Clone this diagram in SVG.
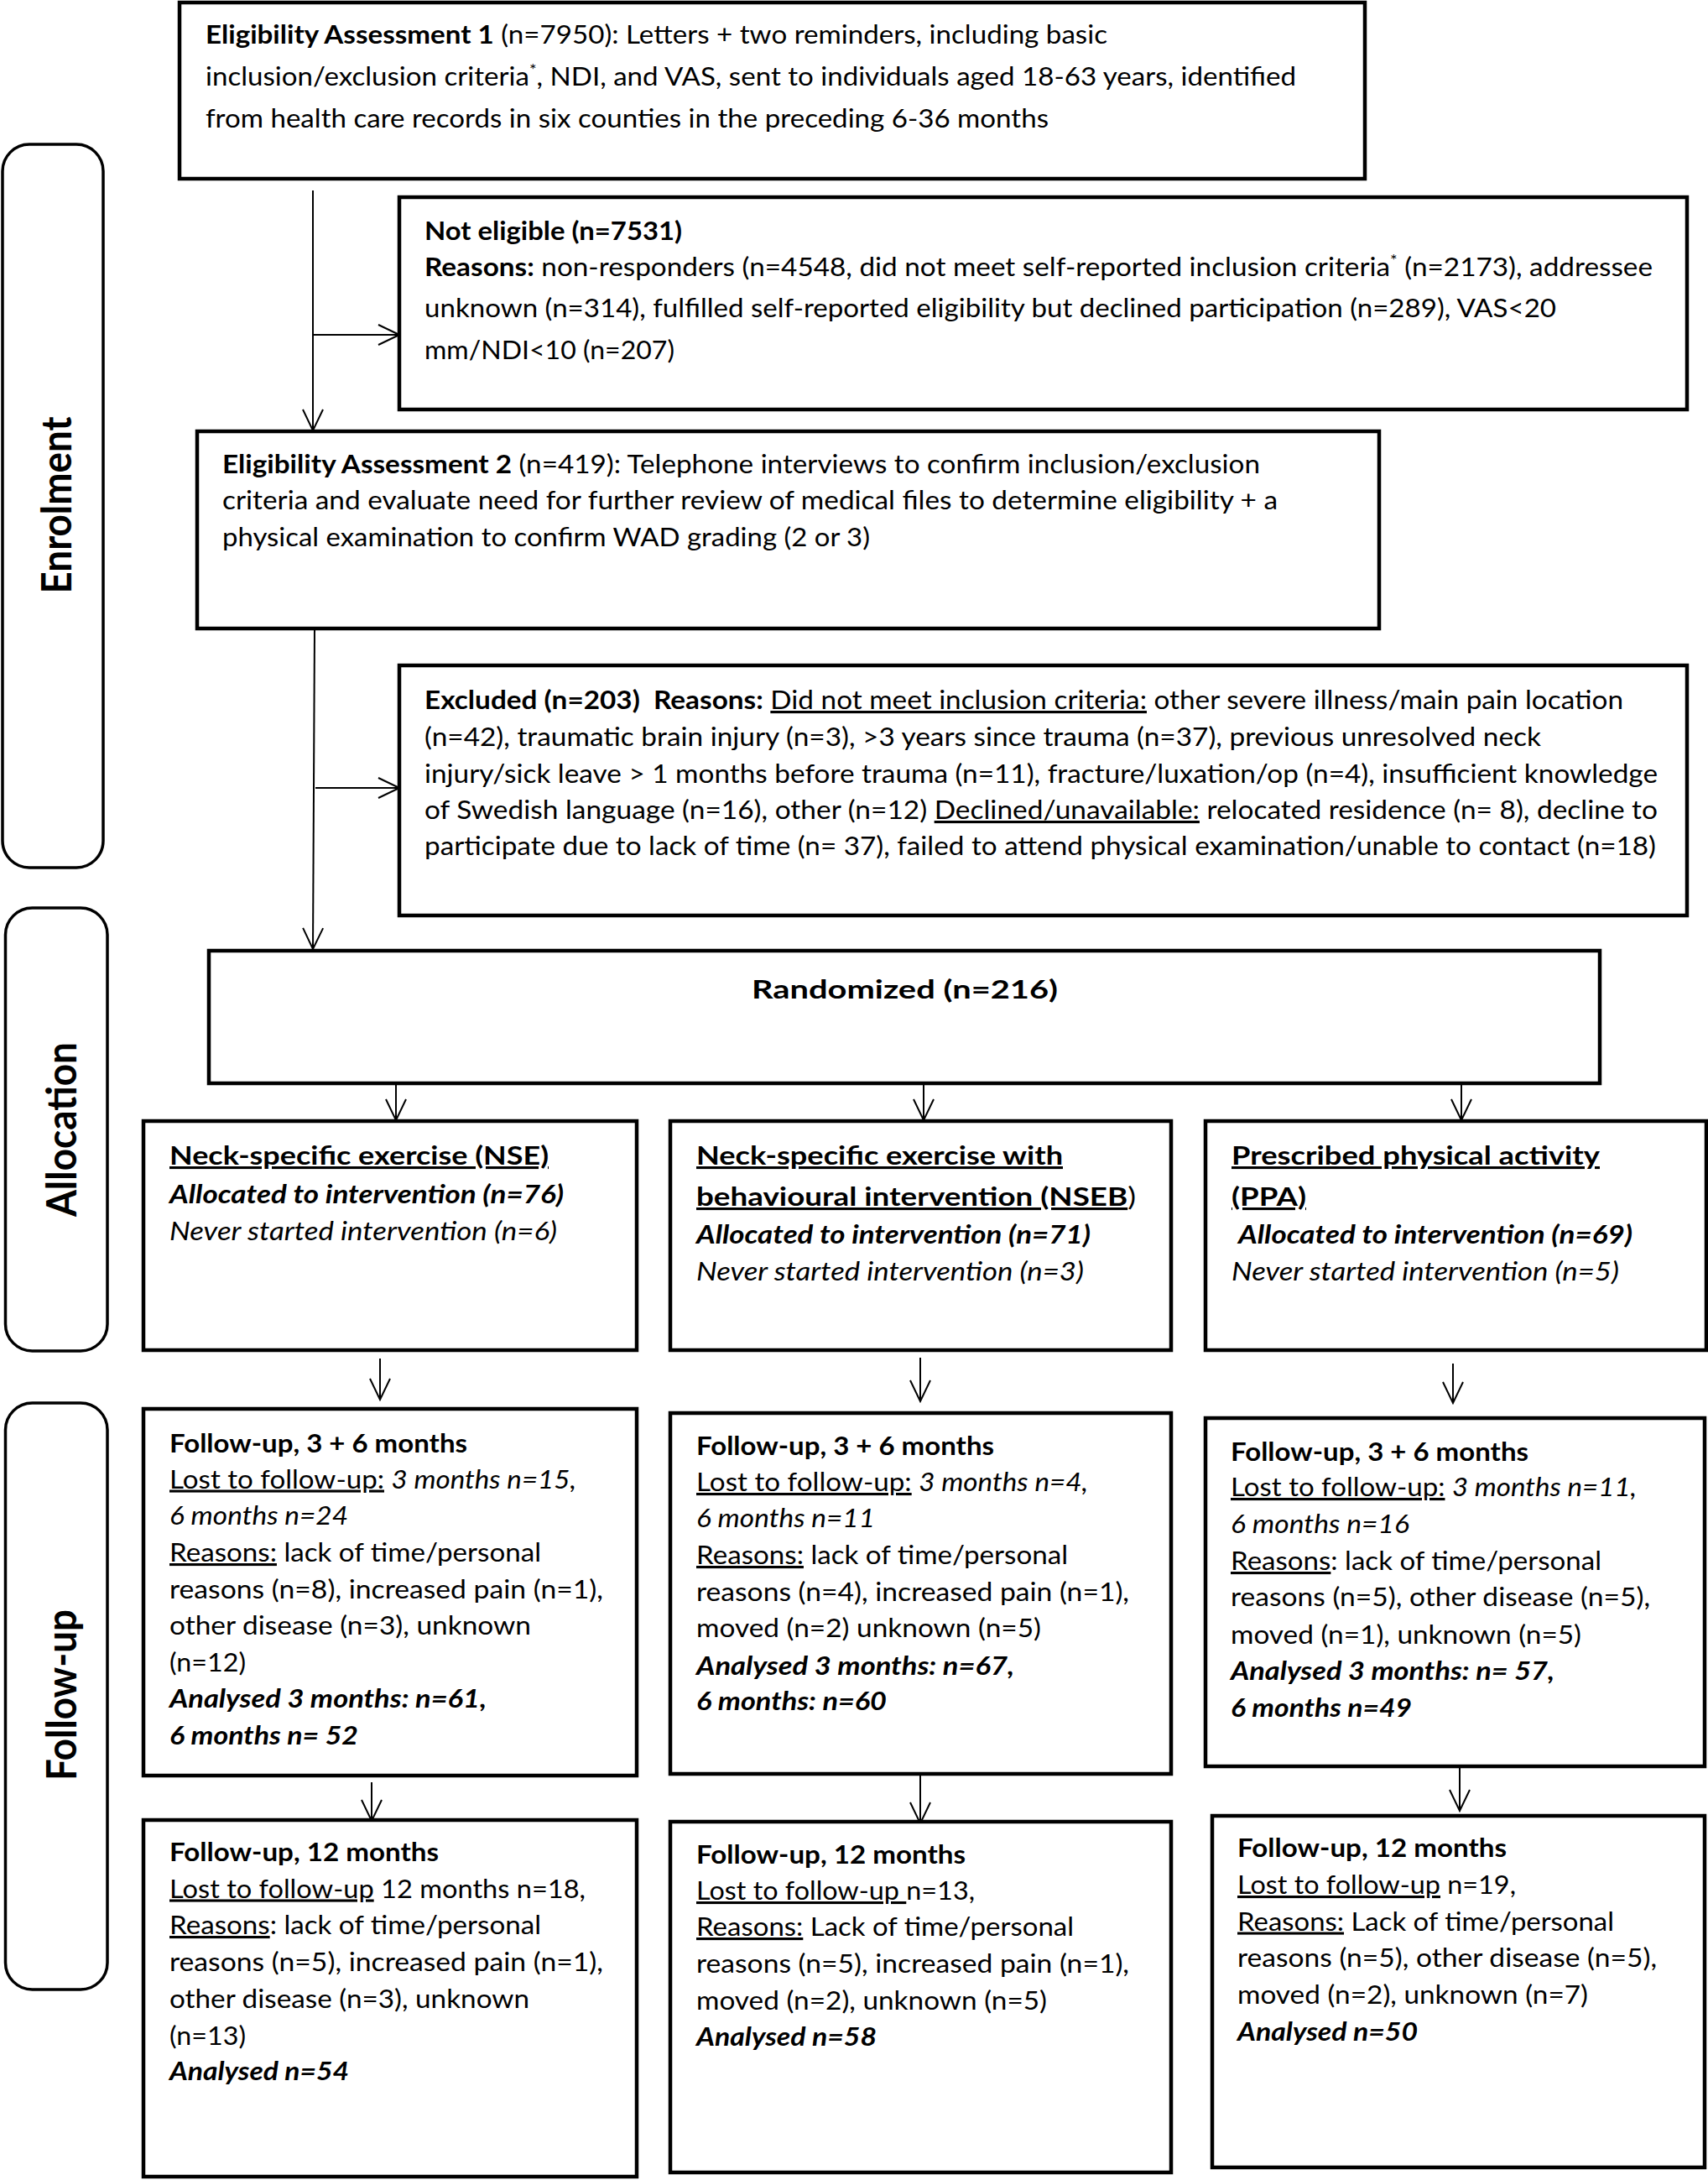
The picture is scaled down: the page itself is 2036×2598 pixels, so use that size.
<svg xmlns="http://www.w3.org/2000/svg" width="2036" height="2598" viewBox="0 0 2036 2598">
<style>
.bg{fill:#fff}
.box{fill:#fff;stroke:#000;stroke-width:4.5}
.lane{fill:#fff;stroke:#000;stroke-width:3.5}
.t{font-family:Lato,"Liberation Sans",sans-serif;font-size:31px;fill:#000}
.b{font-weight:bold}
.i{font-style:italic}
.u{text-decoration:underline}
.sup{font-size:19px}
.lbl{font-family:Lato,"Liberation Sans",sans-serif;font-size:50px;font-weight:bold;text-anchor:middle;fill:#000}
.conn{stroke:#000;stroke-width:2;fill:none;marker-end:url(#ah)}
</style>
<defs>
<marker id="ah" viewBox="0 0 28 26" refX="26" refY="13" markerWidth="28" markerHeight="26" markerUnits="userSpaceOnUse" orient="auto">
<path d="M1,1 L26,13 L1,25" fill="none" stroke="#000" stroke-width="2"/>
</marker>
</defs>
<rect class="bg" x="0" y="0" width="2036" height="2598"/>

<g id="lane-enrolment">
<rect class="lane" x="3" y="172" width="120" height="862" rx="32"/>
<text class="lbl" transform="translate(85,602) rotate(-90)" textLength="211" lengthAdjust="spacingAndGlyphs">Enrolment</text>
</g>
<g id="lane-allocation">
<rect class="lane" x="6.5" y="1082" width="121.5" height="528" rx="32"/>
<text class="lbl" transform="translate(91,1346) rotate(-90)" textLength="208" lengthAdjust="spacingAndGlyphs">Allocation</text>
</g>
<g id="lane-followup">
<rect class="lane" x="6.5" y="1672" width="121.5" height="699" rx="32"/>
<text class="lbl" transform="translate(91,2020) rotate(-90)" textLength="204" lengthAdjust="spacingAndGlyphs">Follow-up</text>
</g>

<g id="connectors">
<line class="conn" x1="373" y1="227" x2="373" y2="513"/>
<line class="conn" x1="374" y1="399" x2="476" y2="399"/>
<line class="conn" x1="375" y1="749" x2="373" y2="1131"/>
<line class="conn" x1="376" y1="939" x2="476" y2="939"/>
<line class="conn" x1="472" y1="1291" x2="472" y2="1335"/>
<line class="conn" x1="1101" y1="1291" x2="1101" y2="1335"/>
<line class="conn" x1="1742" y1="1291" x2="1742" y2="1335"/>
<line class="conn" x1="453" y1="1619" x2="453" y2="1668"/>
<line class="conn" x1="1097" y1="1618" x2="1097" y2="1670"/>
<line class="conn" x1="1732" y1="1625" x2="1732" y2="1672"/>
<line class="conn" x1="443" y1="2124" x2="443" y2="2170"/>
<line class="conn" x1="1097" y1="2116" x2="1097" y2="2173"/>
<line class="conn" x1="1740" y1="2105" x2="1740" y2="2158"/>
</g>

<g id="ea1">
<rect class="box" x="214" y="3" width="1413" height="210"/>
<text class="t" x="245" y="52" textLength="1075" lengthAdjust="spacingAndGlyphs"><tspan class="b">Eligibility Assessment 1</tspan> (n=7950): Letters + two reminders, including basic</text>
<text class="t" x="245" y="102" textLength="1300" lengthAdjust="spacingAndGlyphs">inclusion/exclusion criteria<tspan class="sup" dy="-12">*</tspan><tspan dy="12">, NDI, and VAS, sent to individuals aged 18-63 years, identified</tspan></text>
<text class="t" x="245" y="152" textLength="1005" lengthAdjust="spacingAndGlyphs">from health care records in six counties in the preceding 6-36 months</text>
</g>

<g id="not-eligible">
<rect class="box" x="476" y="235" width="1535" height="253"/>
<text class="t b" x="506" y="286" textLength="307" lengthAdjust="spacingAndGlyphs">Not eligible (n=7531)</text>
<text class="t" x="506" y="329" textLength="1464" lengthAdjust="spacingAndGlyphs"><tspan class="b">Reasons:</tspan> non-responders (n=4548, did not meet self-reported inclusion criteria<tspan class="sup" dy="-12">*</tspan><tspan dy="12"> (n=2173), addressee</tspan></text>
<text class="t" x="506" y="378" textLength="1349" lengthAdjust="spacingAndGlyphs">unknown (n=314), fulfilled self-reported eligibility but declined participation (n=289), VAS&lt;20</text>
<text class="t" x="506" y="428" textLength="298" lengthAdjust="spacingAndGlyphs">mm/NDI&lt;10 (n=207)</text>
</g>

<g id="ea2">
<rect class="box" x="235" y="514" width="1409" height="235"/>
<text class="t" x="265" y="563.5" textLength="1237" lengthAdjust="spacingAndGlyphs"><tspan class="b">Eligibility Assessment 2</tspan> (n=419): Telephone interviews to confirm inclusion/exclusion</text>
<text class="t" x="265" y="607" textLength="1258" lengthAdjust="spacingAndGlyphs">criteria and evaluate need for further review of medical files to determine eligibility + a</text>
<text class="t" x="265" y="650.5" textLength="772" lengthAdjust="spacingAndGlyphs">physical examination to confirm WAD grading (2 or 3)</text>
</g>

<g id="excluded">
<rect class="box" x="476" y="793" width="1535" height="298"/>
<text class="t" x="506" y="845" textLength="1429" lengthAdjust="spacingAndGlyphs"><tspan class="b">Excluded (n=203)&#160; Reasons:</tspan> <tspan class="u">Did not meet inclusion criteria:</tspan> other severe illness/main pain location</text>
<text class="t" x="506" y="889" textLength="1331" lengthAdjust="spacingAndGlyphs">(n=42), traumatic brain injury (n=3), &gt;3 years since trauma (n=37), previous unresolved neck</text>
<text class="t" x="506" y="933" textLength="1470" lengthAdjust="spacingAndGlyphs">injury/sick leave &gt; 1 months before trauma (n=11), fracture/luxation/op (n=4), insufficient knowledge</text>
<text class="t" x="506" y="976" textLength="1470" lengthAdjust="spacingAndGlyphs">of Swedish language (n=16), other (n=12) <tspan class="u">Declined/unavailable:</tspan> relocated residence (n= 8), decline to</text>
<text class="t" x="506" y="1019" textLength="1468" lengthAdjust="spacingAndGlyphs">participate due to lack of time (n= 37), failed to attend physical examination/unable to contact (n=18)</text>
</g>

<g id="randomized">
<rect class="box" x="249" y="1133" width="1658" height="158"/>
<text class="t b" x="896" y="1190" textLength="365" lengthAdjust="spacingAndGlyphs">Randomized (n=216)</text>
</g>

<g id="alloc-nse">
<rect class="box" x="171" y="1336" width="588" height="273"/>
<text class="t b u" x="202" y="1388" textLength="452" lengthAdjust="spacingAndGlyphs">Neck-specific exercise (NSE)</text>
<text class="t b i" x="202" y="1433.5" textLength="470" lengthAdjust="spacingAndGlyphs">Allocated to intervention (n=76)</text>
<text class="t i" x="202" y="1478" textLength="462" lengthAdjust="spacingAndGlyphs">Never started intervention (n=6)</text>
</g>

<g id="alloc-nseb">
<rect class="box" x="799" y="1336" width="597" height="273"/>
<text class="t b u" x="830" y="1388" textLength="437" lengthAdjust="spacingAndGlyphs">Neck-specific exercise with</text>
<text class="t" x="830" y="1437" textLength="524" lengthAdjust="spacingAndGlyphs"><tspan class="b u">behavioural intervention (NSEB</tspan>)</text>
<text class="t b i" x="830" y="1482" textLength="470" lengthAdjust="spacingAndGlyphs">Allocated to intervention (n=71)</text>
<text class="t i" x="830" y="1526" textLength="462" lengthAdjust="spacingAndGlyphs">Never started intervention (n=3)</text>
</g>

<g id="alloc-ppa">
<rect class="box" x="1437" y="1336" width="597" height="273"/>
<text class="t b u" x="1468" y="1388" textLength="439" lengthAdjust="spacingAndGlyphs">Prescribed physical activity</text>
<text class="t b u" x="1468" y="1437" textLength="89" lengthAdjust="spacingAndGlyphs">(PPA)</text>
<text class="t b i" x="1476" y="1482" textLength="470" lengthAdjust="spacingAndGlyphs">Allocated to intervention (n=69)</text>
<text class="t i" x="1468" y="1526" textLength="462" lengthAdjust="spacingAndGlyphs">Never started intervention (n=5)</text>
</g>

<g id="fu36-nse">
<rect class="box" x="171" y="1679" width="588" height="437"/>
<text class="t b" x="202" y="1731" textLength="355" lengthAdjust="spacingAndGlyphs">Follow-up, 3 + 6 months</text>
<text class="t" x="202" y="1773.5" textLength="485" lengthAdjust="spacingAndGlyphs"><tspan class="u">Lost to follow-up:</tspan> <tspan class="i">3 months n=15,</tspan></text>
<text class="t i" x="202" y="1817" textLength="213" lengthAdjust="spacingAndGlyphs">6 months n=24</text>
<text class="t" x="202" y="1861" textLength="443" lengthAdjust="spacingAndGlyphs"><tspan class="u">Reasons:</tspan> lack of time/personal</text>
<text class="t" x="202" y="1904.5" textLength="517" lengthAdjust="spacingAndGlyphs">reasons (n=8), increased pain (n=1),</text>
<text class="t" x="202" y="1948" textLength="431" lengthAdjust="spacingAndGlyphs">other disease (n=3), unknown</text>
<text class="t" x="202" y="1991.5" textLength="91" lengthAdjust="spacingAndGlyphs">(n=12)</text>
<text class="t b i" x="202" y="2034.5" textLength="378" lengthAdjust="spacingAndGlyphs">Analysed 3 months: n=61,</text>
<text class="t b i" x="202" y="2078.5" textLength="225" lengthAdjust="spacingAndGlyphs">6 months n= 52</text>
</g>

<g id="fu36-nseb">
<rect class="box" x="799" y="1684" width="597" height="430"/>
<text class="t b" x="830" y="1734" textLength="355" lengthAdjust="spacingAndGlyphs">Follow-up, 3 + 6 months</text>
<text class="t" x="830" y="1777" textLength="467" lengthAdjust="spacingAndGlyphs"><tspan class="u">Lost to follow-up:</tspan> <tspan class="i">3 months n=4,</tspan></text>
<text class="t i" x="830" y="1820" textLength="213" lengthAdjust="spacingAndGlyphs">6 months n=11</text>
<text class="t" x="830" y="1864" textLength="443" lengthAdjust="spacingAndGlyphs"><tspan class="u">Reasons:</tspan> lack of time/personal</text>
<text class="t" x="830" y="1908" textLength="516" lengthAdjust="spacingAndGlyphs">reasons (n=4), increased pain (n=1),</text>
<text class="t" x="830" y="1951" textLength="411" lengthAdjust="spacingAndGlyphs">moved (n=2) unknown (n=5)</text>
<text class="t b i" x="830" y="1995.5" textLength="379" lengthAdjust="spacingAndGlyphs">Analysed 3 months: n=67,</text>
<text class="t b i" x="830" y="2038" textLength="227" lengthAdjust="spacingAndGlyphs">6 months: n=60</text>
</g>

<g id="fu36-ppa">
<rect class="box" x="1437" y="1690" width="595" height="415"/>
<text class="t b" x="1467" y="1741" textLength="355" lengthAdjust="spacingAndGlyphs">Follow-up, 3 + 6 months</text>
<text class="t" x="1467" y="1783" textLength="484" lengthAdjust="spacingAndGlyphs"><tspan class="u">Lost to follow-up:</tspan> <tspan class="i">3 months n=11,</tspan></text>
<text class="t i" x="1467" y="1827" textLength="213" lengthAdjust="spacingAndGlyphs">6 months n=16</text>
<text class="t" x="1467" y="1871" textLength="442" lengthAdjust="spacingAndGlyphs"><tspan class="u">Reasons</tspan>: lack of time/personal</text>
<text class="t" x="1467" y="1914" textLength="500" lengthAdjust="spacingAndGlyphs">reasons (n=5), other disease (n=5),</text>
<text class="t" x="1467" y="1958.5" textLength="418" lengthAdjust="spacingAndGlyphs">moved (n=1), unknown (n=5)</text>
<text class="t b i" x="1467" y="2002" textLength="386" lengthAdjust="spacingAndGlyphs">Analysed 3 months: n= 57,</text>
<text class="t b i" x="1467" y="2045.5" textLength="216" lengthAdjust="spacingAndGlyphs">6 months n=49</text>
</g>

<g id="fu12-nse">
<rect class="box" x="171" y="2169" width="588" height="425"/>
<text class="t b" x="202" y="2218" textLength="321" lengthAdjust="spacingAndGlyphs">Follow-up, 12 months</text>
<text class="t" x="202" y="2261.5" textLength="496" lengthAdjust="spacingAndGlyphs"><tspan class="u">Lost to follow-up</tspan> 12 months n=18,</text>
<text class="t" x="202" y="2305" textLength="443" lengthAdjust="spacingAndGlyphs"><tspan class="u">Reasons</tspan>: lack of time/personal</text>
<text class="t" x="202" y="2349" textLength="517" lengthAdjust="spacingAndGlyphs">reasons (n=5), increased pain (n=1),</text>
<text class="t" x="202" y="2393" textLength="429" lengthAdjust="spacingAndGlyphs">other disease (n=3), unknown</text>
<text class="t" x="202" y="2437" textLength="91" lengthAdjust="spacingAndGlyphs">(n=13)</text>
<text class="t b i" x="202" y="2479" textLength="214" lengthAdjust="spacingAndGlyphs">Analysed n=54</text>
</g>

<g id="fu12-nseb">
<rect class="box" x="799" y="2171" width="597" height="418"/>
<text class="t b" x="830" y="2221" textLength="321" lengthAdjust="spacingAndGlyphs">Follow-up, 12 months</text>
<text class="t" x="830" y="2264" textLength="332" lengthAdjust="spacingAndGlyphs"><tspan class="u">Lost to follow-up </tspan>n=13,</text>
<text class="t" x="830" y="2307" textLength="450" lengthAdjust="spacingAndGlyphs"><tspan class="u">Reasons:</tspan> Lack of time/personal</text>
<text class="t" x="830" y="2351" textLength="516" lengthAdjust="spacingAndGlyphs">reasons (n=5), increased pain (n=1),</text>
<text class="t" x="830" y="2395" textLength="418" lengthAdjust="spacingAndGlyphs">moved (n=2), unknown (n=5)</text>
<text class="t b i" x="830" y="2438" textLength="215" lengthAdjust="spacingAndGlyphs">Analysed n=58</text>
</g>

<g id="fu12-ppa">
<rect class="box" x="1445" y="2164" width="587" height="419"/>
<text class="t b" x="1475" y="2213" textLength="321" lengthAdjust="spacingAndGlyphs">Follow-up, 12 months</text>
<text class="t" x="1475" y="2257" textLength="332" lengthAdjust="spacingAndGlyphs"><tspan class="u">Lost to follow-up</tspan> n=19,</text>
<text class="t" x="1475" y="2300.5" textLength="449" lengthAdjust="spacingAndGlyphs"><tspan class="u">Reasons:</tspan> Lack of time/personal</text>
<text class="t" x="1475" y="2344" textLength="500" lengthAdjust="spacingAndGlyphs">reasons (n=5), other disease (n=5),</text>
<text class="t" x="1475" y="2388" textLength="418" lengthAdjust="spacingAndGlyphs">moved (n=2), unknown (n=7)</text>
<text class="t b i" x="1475" y="2432" textLength="215" lengthAdjust="spacingAndGlyphs">Analysed n=50</text>
</g>
</svg>
